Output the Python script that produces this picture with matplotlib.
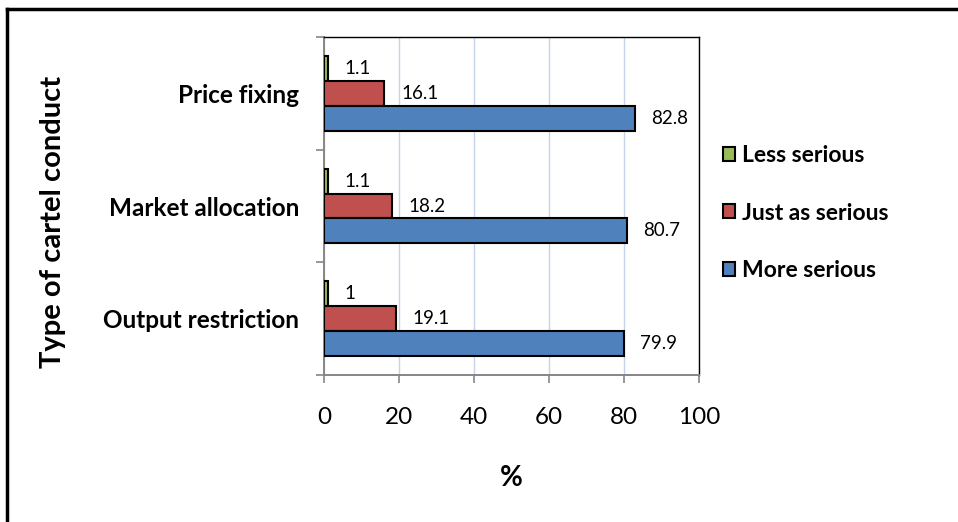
import matplotlib
matplotlib.use('Agg')
import matplotlib.pyplot as plt
import numpy as np
from matplotlib.lines import Line2D

plt.rcParams['font.family'] = ['Lato', 'DejaVu Sans']

# Survey results by type of cartel conduct (%)
conducts = ['Output restriction', 'Market allocation', 'Price fixing']
less_serious = [1.0, 1.1, 1.1]
just_as_serious = [19.1, 18.2, 16.1]
more_serious = [79.9, 80.7, 82.8]
series_names = ['Less serious', 'Just as serious', 'More serious']
colors = ['#9BBB59', '#C0504D', '#4F81BD']
x_ticks = [0, 20, 40, 60, 80, 100]

fig = plt.figure(figsize=(9.58, 5.22), dpi=100)
ax = fig.add_axes([324 / 958, 1 - 375 / 522, 375 / 958, 338 / 522])

y = np.arange(len(conducts))
h = 0.22
offsets = [h, 0, -h]
series = [less_serious, just_as_serious, more_serious]
for vals, off, col, name in zip(series, offsets, colors, series_names):
    bars = ax.barh(y + off, vals, height=h, color=col, edgecolor='black',
                   linewidth=1.5, label=name, zorder=3)
    for b, v in zip(bars, vals):
        lab = f'{v:g}'
        ax.annotate(lab, (b.get_width(), b.get_y() + b.get_height() / 2),
                    xytext=(12, 0), textcoords='offset points',
                    ha='left', va='center', fontsize=13.5)

ax.set_xlim(0, 100)
ax.set_ylim(-0.5, 2.5)
ax.set_xticks(x_ticks)
ax.set_xticklabels([str(t) for t in x_ticks], fontsize=17.5)
ax.set_yticks(y)
ax.set_yticklabels(conducts, fontsize=17.5, fontweight='bold')
ax.set_yticks(np.arange(-0.5, 3, 1), minor=True)
ax.tick_params(axis='y', which='major', length=0, pad=18)
ax.tick_params(axis='y', which='minor', length=6, color='#868686', width=1.2)
ax.tick_params(axis='x', which='major', length=6, color='#868686', width=1.2,
               direction='out', pad=17)

ax.grid(axis='x', color='#C5D3EA', linewidth=1, zorder=0)
for s in ['left', 'bottom']:
    ax.spines[s].set_color('#868686')
    ax.spines[s].set_linewidth(1.4)
for s in ['top', 'right']:
    ax.spines[s].set_color('black')
    ax.spines[s].set_linewidth(1.0)

ax.set_xlabel('%', fontsize=20, fontweight='bold', labelpad=27)
fig.text(53 / 958, 1 - 222 / 522, 'Type of cartel conduct', rotation=90,
         ha='center', va='center', fontsize=21, fontweight='bold')

handles, labels = ax.get_legend_handles_labels()
leg = fig.legend(handles, labels, loc='center left',
                 bbox_to_anchor=(702 / 958, 1 - 213 / 522), frameon=False,
                 prop={'size': 16.5, 'weight': 'bold'}, handlelength=0.55,
                 handleheight=0.55, handletextpad=0.3, labelspacing=1.6)

# outer frame (top and left edges visible)
fig.add_artist(Line2D([7 / 958, 1], [1 - 9 / 522, 1 - 9 / 522],
                      transform=fig.transFigure, color='black', linewidth=2.5))
fig.add_artist(Line2D([7 / 958, 7 / 958], [0, 1 - 9 / 522],
                      transform=fig.transFigure, color='black', linewidth=2.5))

fig.savefig('out.png', dpi=100, facecolor='white')
